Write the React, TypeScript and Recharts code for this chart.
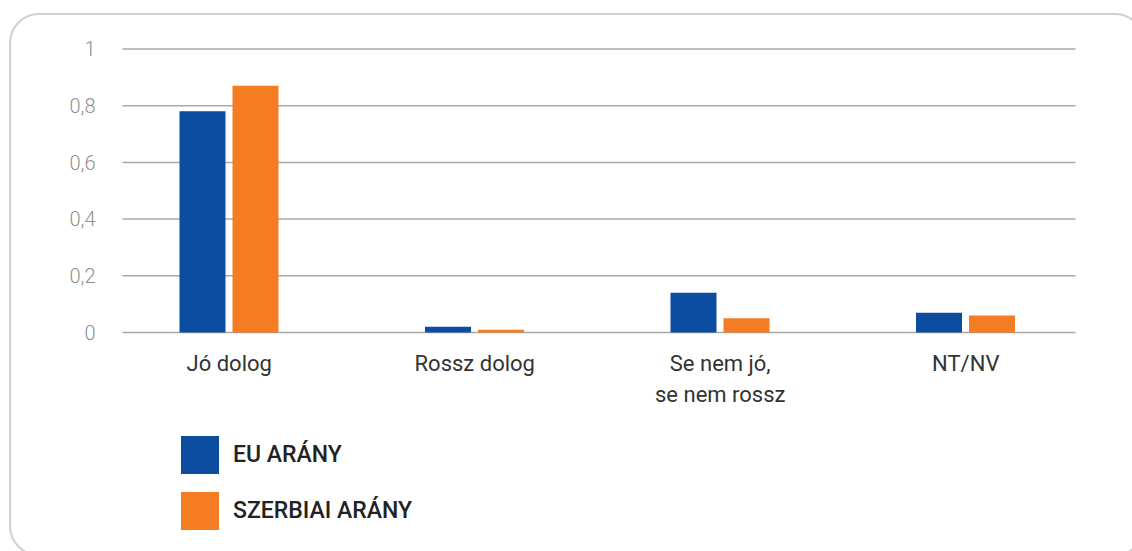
import React from 'react';
import { BarChart, Bar, XAxis, YAxis, CartesianGrid, Legend } from 'recharts';

const categories = ['Jó dolog', 'Rossz dolog', 'Se nem jó,\nse nem rossz', 'NT/NV'];
const euValues = [0.78, 0.02, 0.14, 0.07];
const serbiaValues = [0.87, 0.01, 0.05, 0.06];
const yTicks = [0, 0.2, 0.4, 0.6, 0.8, 1];

const EU_COLOR = '#0d4da1';
const RS_COLOR = '#f47c22';

const data = categories.map((c, i) => ({
  name: c,
  eu: euValues[i],
  rs: serbiaValues[i],
}));

const XTick = (props: any) => {
  const { x, y, payload } = props;
  const lines = String(payload.value).split('\n');
  return (
    <text
      x={x}
      y={y + 30}
      textAnchor="middle"
      fill="#333"
      style={{ fontFamily: 'Roboto', fontSize: 22 }}
    >
      {lines.map((l, i) => (
        <tspan key={i} x={x} dy={i === 0 ? 0 : 31}>
          {l}
        </tspan>
      ))}
    </text>
  );
};

const LegendContent = (props: any) => {
  const { payload } = props;
  return (
    <div>
      {payload.map((p: any) => (
        <div
          key={p.value}
          style={{ display: 'flex', alignItems: 'center', height: 38, marginBottom: 18 }}
        >
          <div style={{ width: 38, height: 38, background: p.color, marginRight: 14 }} />
          <span
            style={{
              fontFamily: 'Roboto',
              fontWeight: 500,
              fontSize: 23,
              color: '#222',
              lineHeight: '38px',
            }}
          >
            {p.value}
          </span>
        </div>
      ))}
    </div>
  );
};

export default function App() {
  return (
    <div
      style={{
        position: 'absolute',
        left: 0,
        top: 0,
        width: 1132,
        height: 551,
        overflow: 'hidden',
        background: '#fff',
      }}
    >
      <div
        style={{
          position: 'absolute',
          left: 9,
          top: 13,
          width: 1136,
          height: 543,
          boxSizing: 'border-box',
          border: '2px solid #cfcfcf',
          borderRadius: 30,
        }}
      />
      <div style={{ position: 'absolute', left: 0, top: 0 }}>
        <BarChart
          width={1132}
          height={551}
          data={data}
          margin={{ top: 49, right: 43.5, bottom: 158.5, left: 0 }}
          barSize={46}
          barGap={7}
        >
          <CartesianGrid
            vertical={false}
            horizontal={(p: any) => (
              <line
                key={p.key}
                x1={p.x1 + 16}
                x2={p.x2 - 13}
                y1={p.y1}
                y2={p.y2}
                stroke="#a9a9a9"
                strokeWidth={1.5}
              />
            )}
          />
          <XAxis
            dataKey="name"
            axisLine={false}
            tickLine={false}
            interval={0}
            height={60}
            tick={<XTick />}
          />
          <YAxis
            width={106.5}
            domain={[0, 1]}
            ticks={yTicks}
            axisLine={false}
            tickLine={false}
            dx={-3}
            tickFormatter={(v: number) => String(v).replace('.', ',')}
            tick={{ fill: '#8f8f8f', fontSize: 20, fontFamily: 'Roboto', fontWeight: 300 }}
          />
          <Legend
            layout="vertical"
            align="center"
            verticalAlign="middle"
            content={<LegendContent />}
            wrapperStyle={{ left: 181, top: 436, width: 400 }}
          />
          <Bar dataKey="eu" name="EU ARÁNY" fill={EU_COLOR} isAnimationActive={false} />
          <Bar dataKey="rs" name="SZERBIAI ARÁNY" fill={RS_COLOR} isAnimationActive={false} />
        </BarChart>
      </div>
    </div>
  );
}
